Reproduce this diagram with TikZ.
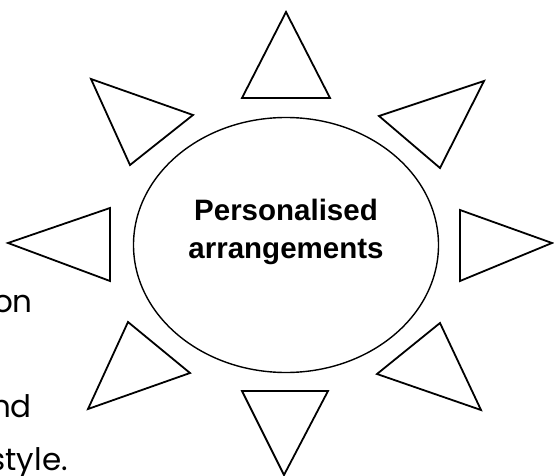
\documentclass[tikz,border=0pt]{standalone}
\usepackage{fontspec}
\setmainfont{Liberation Sans}
\newfontfamily\handfont{Poppins}
\usetikzlibrary{shapes.geometric}
\tikzset{
  ray/.style={draw=black,line width=1.8pt,line join=miter},
  hub/.style={draw=black,ellipse,line width=1.4pt,minimum width=305pt,minimum height=255pt,inner sep=0pt},
  hubtext/.style={font=\fontsize{29.5}{38}\selectfont\bfseries,align=center,inner sep=0pt},
  side/.style={font=\fontsize{31}{34}\selectfont\handfont,inner sep=0pt,anchor=base east},
}
\begin{document}
\begin{tikzpicture}[x=1pt,y=-1pt]
  \clip (0,0) rectangle (554,476);
  \fill[white] (0,0) rectangle (554,476);
  % centre
  \node[hub] (hub) at (286,245) {};
  \node[hubtext] (label) at (286,232) {Personalised\\arrangements};
  % rays, clockwise from the top
  \draw[ray] (242,98) -- (286,12) -- (330,98) -- cycle;
  \draw[ray] (379,116) -- (484,81) -- (440,168) -- cycle;
  \draw[ray] (460,210) -- (552,243) -- (460,281) -- cycle;
  \draw[ray] (377,374) -- (440,323) -- (481,410) -- cycle;
  \draw[ray] (242,391) -- (328,391) -- (284,475) -- cycle;
  \draw[ray] (128,322) -- (190,373) -- (88,409) -- cycle;
  \draw[ray] (110,208) -- (8,243) -- (110,281) -- cycle;
  \draw[ray] (91,79) -- (193,115) -- (130,165) -- cycle;
  % text cut off at the left edge
  \node[side] (on) at (33,312) {on};
  \node[side] (nd) at (32,417) {nd};
  \node[side] (style) at (68,470) {style.};
\end{tikzpicture}
\end{document}
